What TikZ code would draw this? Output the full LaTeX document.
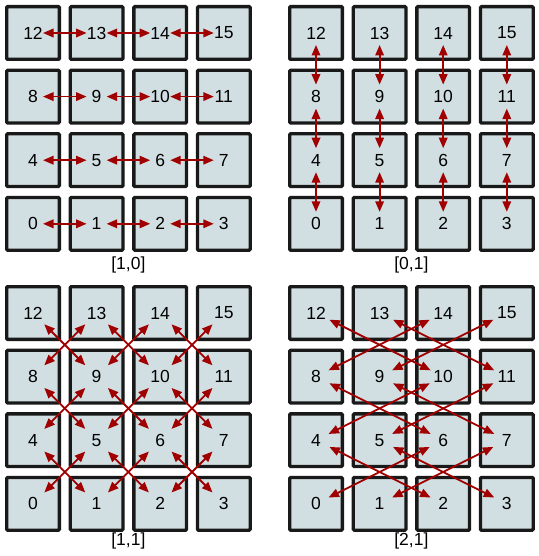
\documentclass[tikz,border=0pt]{standalone}
\usepackage{fontspec}
\setmainfont{Liberation Sans}
\usetikzlibrary{arrows.meta}
\definecolor{sqfill}{HTML}{D2DFE2}
\definecolor{arr}{HTML}{A00000}
\begin{document}
\begin{tikzpicture}[x=1pt,y=-1pt,
 sq/.style={draw=black!90,line width=3.3pt,fill=sqfill,minimum size=52.7pt,inner sep=0pt,rounded corners=1pt,font=\fontsize{17.5}{17.5}\selectfont},
 link/.style={arr,line width=1.8pt,{Triangle[length=10.5pt,width=8.5pt]}-{Triangle[length=10.5pt,width=8.5pt]}},
 gridlabel/.style={font=\fontsize{17.5}{17.5}\selectfont}]
\useasboundingbox[fill=white] (0,0) rectangle (538,556);
\foreach \g/\gx/\gy in {a/5/5,b/288/5,c/5/285,d/288/285}{
  \foreach \n in {0,...,15}{
    \pgfmathsetmacro\px{\gx+28+63.6*mod(\n,4)}
    \pgfmathsetmacro\py{\gy+28+63.6*(3-floor(\n/4))}
    \node[sq] (\g-\n) at (\px,\py) {\n};
  }
}
\node[gridlabel] (la) at (128.4,265) {[1,0]};
\node[gridlabel] (lb) at (411.4,265) {[0,1]};
\node[gridlabel] (lc) at (128.4,541) {[1,1]};
\node[gridlabel] (ld) at (411.4,541) {[2,1]};
% [1,0]
\foreach \r in {0,...,3}{\foreach \c in {0,1,2}{
  \pgfmathtruncatemacro\p{4*\r+\c}\pgfmathtruncatemacro\q{\p+1}
  \draw[link,shorten <=10pt,shorten >=10pt] (a-\p.center) -- (a-\q.center);}}
% [0,1]
\foreach \r in {0,1,2}{\foreach \c in {0,...,3}{
  \pgfmathtruncatemacro\p{4*\r+\c}\pgfmathtruncatemacro\q{\p+4}
  \draw[link,shorten <=12pt,shorten >=12pt] (b-\p.center) -- (b-\q.center);}}
% [1,1]
\foreach \r in {0,1,2}{\foreach \c in {0,1,2}{
  \pgfmathtruncatemacro\p{4*\r+\c}\pgfmathtruncatemacro\q{\p+5}
  \pgfmathtruncatemacro\s{\p+1}\pgfmathtruncatemacro\t{\p+4}
  \draw[link,shorten <=16pt,shorten >=16pt] (c-\p.center) -- (c-\q.center);
  \draw[link,shorten <=16pt,shorten >=16pt] (c-\s.center) -- (c-\t.center);}}
% [2,1]
\foreach \r in {0,1,2}{\foreach \c in {0,1}{
  \pgfmathtruncatemacro\p{4*\r+\c}\pgfmathtruncatemacro\q{\p+6}
  \pgfmathtruncatemacro\s{\p+2}\pgfmathtruncatemacro\t{\p+4}
  \draw[link,shorten <=14pt,shorten >=15pt] (d-\p.center) -- (d-\q.center);
  \draw[link,shorten <=14pt,shorten >=15pt] (d-\s.center) -- (d-\t.center);}}
\end{tikzpicture}
\end{document}
